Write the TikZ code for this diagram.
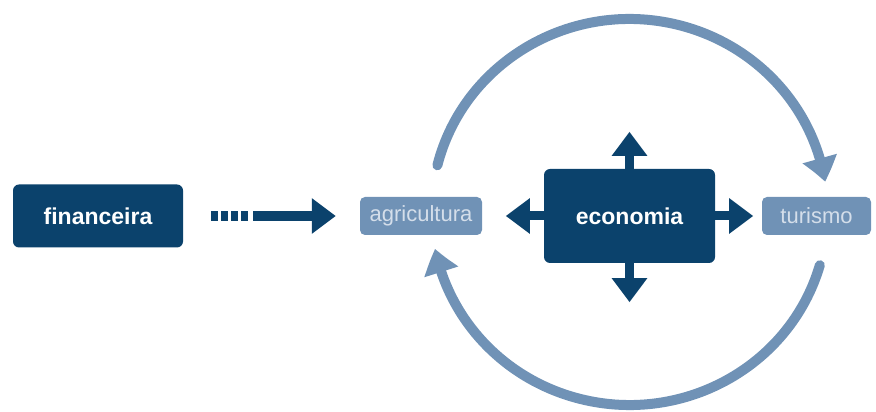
\documentclass[tikz,border=0pt]{standalone}
\usepackage{fontspec}
\setmainfont{Liberation Sans}
\usetikzlibrary{arrows.meta, bending, calc}

\definecolor{econdark}{HTML}{0B426C}
\definecolor{econlight}{HTML}{7092B6}
\definecolor{econpale}{HTML}{D4DEEA}

\begin{document}
\begin{tikzpicture}[x=1pt, y=1pt,
    darkbox/.style={rectangle, rounded corners=6pt, fill=econdark, text=white,
      font=\fontsize{23}{26}\selectfont\bfseries, inner sep=0pt},
    lightbox/.style={rectangle, rounded corners=5pt, fill=econlight, text=econpale,
      font=\fontsize{22}{25}\selectfont, inner sep=0pt, minimum height=38pt},
    outarrow/.style={draw=econdark, line width=9pt,
      -{Triangle[width=34pt, length=24pt]}},
    cyclearrow/.style={draw=econlight, line width=10pt, line cap=round,
      -{Triangle[width=34pt, length=24pt, bend]}}]
  \useasboundingbox (0,0) rectangle (876,412);

  \node[darkbox, minimum width=170pt, minimum height=63pt] (fin) at (98,196) {financeira};
  \node[lightbox, minimum width=122pt] (agr) at (421,196) {agricultura};
  \node[darkbox, minimum width=171pt, minimum height=94pt] (eco) at (629.5,196) {economia};
  \node[lightbox, minimum width=109pt] (tur) at (816.5,196) {turismo};

  % arrows out of the central box
  \draw[outarrow] (eco.north) -- ++(0,37);
  \draw[outarrow] (eco.south) -- ++(0,-39);
  \draw[outarrow] (eco.west) -- ++(-38,0);
  \draw[outarrow] (eco.east) -- ++(38,0);

  % broken arrow into agricultura
  \draw[outarrow, line width=10pt,
        dash pattern=on 7pt off 3pt on 7pt off 3pt on 7pt off 3pt on 7pt off 5pt on 400pt]
    ([xshift=28pt]fin.east) -- ([xshift=-24pt]agr.west);

  % the cycle round the centre
  \coordinate (hub) at ($(eco.center)+(0,4)$);
  \draw[cyclearrow] ($(hub)+(166:198 and 193)$)
    arc[start angle=166, end angle=9, x radius=198, y radius=193];
  \draw[cyclearrow] ($(hub)+(-16:198 and 193)$)
    arc[start angle=-16, end angle=-169, x radius=198, y radius=193];
\end{tikzpicture}
\end{document}
